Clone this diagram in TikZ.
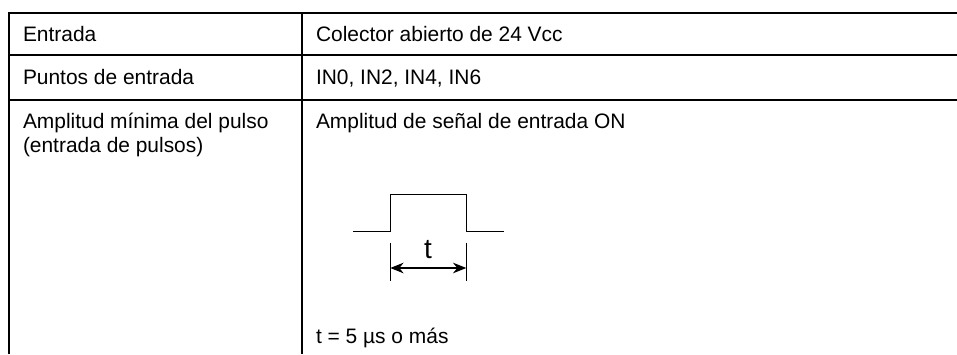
\documentclass[tikz,border=0pt]{standalone}
\usepackage{fontspec}
\setmainfont{Liberation Sans}
\usetikzlibrary{arrows.meta}
\tikzset{
  rule/.style={draw=black,line width=1.2pt,line cap=butt},
  wave/.style={draw=black,line width=1pt},
  tick/.style={draw=black,line width=0.8pt},
  txt/.style={anchor=base west,inner sep=0pt,outer sep=0pt,font=\fontsize{15.7pt}{18pt}\selectfont,text=black},
  big/.style={anchor=base,inner sep=0pt,outer sep=0pt,font=\fontsize{21pt}{24pt}\selectfont,text=black},
  dim/.style={draw=black,line width=0.8pt,{Stealth[length=10pt,width=8pt]}-{Stealth[length=10pt,width=8pt]}}
}
\begin{document}
\begin{tikzpicture}[x=0.75pt,y=-0.75pt]
\useasboundingbox (0,0) rectangle (957,354);
\draw[rule] (8.2,13.2) -- (957,13.2);
\draw[rule] (8.2,55) -- (957,55);
\draw[rule] (8.2,99.8) -- (957,99.8);
\draw[rule] (9,12.4) -- (9,354);
\draw[rule] (301.8,12.4) -- (301.8,354);
\node[txt] (a1) at (23,41) {Entrada};
\node[txt] (a2) at (23,84) {Puntos de entrada};
\node[txt] (a3) at (23,128) {Amplitud mínima del pulso};
\node[txt] (a4) at (23,152.5) {(entrada de pulsos)};
\node[txt] (b1) at (316,41) {Colector abierto de 24 Vcc};
\node[txt] (b2) at (316,84) {IN0, IN2, IN4, IN6};
\node[txt] (b3) at (316,128) {Amplitud de señal de entrada ON};
\node[txt] (b4) at (316,343.3) {t = 5 µs o más};
\draw[wave] (353,231.7) -- (390.3,231.7) -- (390.3,194.7) -- (466.3,194.7) -- (466.3,231.7) -- (503.7,231.7);
\coordinate (l1) at (390.3,242.7);
\coordinate (l2) at (390.3,281);
\coordinate (r1) at (466.3,242.7);
\coordinate (r2) at (466.3,281);
\coordinate (al) at (390.3,268);
\coordinate (ar) at (466.3,268);
\draw[tick] (l1) -- (l2);
\draw[tick] (r1) -- (r2);
\draw[dim] (al) -- (ar);
\node[big] (t) at (428,258.5) {t};
\end{tikzpicture}
\end{document}
